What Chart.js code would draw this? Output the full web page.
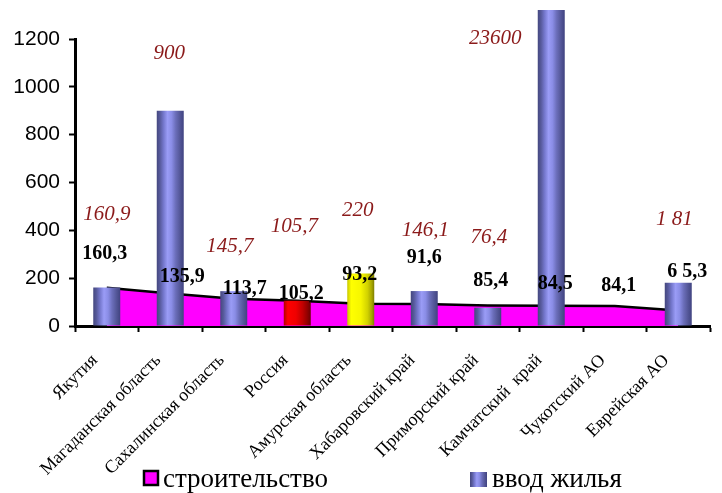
<!DOCTYPE html>
<html><head><meta charset="utf-8">
<script src="https://cdn.jsdelivr.net/npm/chart.js@4.4.0/dist/chart.umd.min.js"></script>
<style>html,body{margin:0;padding:0;background:#fff}#wrap{position:relative;width:722px;height:493px}</style>
</head><body><div id="wrap"><canvas id="c" width="722" height="493"></canvas></div>
<script>
// ---- data ----
const categories = ['Якутия','Магаданская область','Сахалинская область','Россия','Амурская область','Хабаровский край','Приморский край','Камчатский  край','Чукотский АО','Еврейская АО'];
const constructionValues = [160.3,135.9,113.7,105.2,93.2,91.6,85.4,84.5,84.1,65.3];
const housingValues = [160.9,900,145.7,105.7,220,146.1,76.4,23600,null,181];
const constructionLabels = ['160,3','135,9','113,7','105,2','93,2','91,6','85,4','84,5','84,1','6 5,3'];
const housingLabels = ['160,9','900','145,7','105,7','220','146,1','76,4','23600','','1 81'];
const yTicks = [0,200,400,600,800,1000,1200];
const seriesNames = ['строительство','ввод жилья'];

// ---- layout / style (not data) ----
const constructionLabelShift = [[-2,-34],[12,-17],[11,-10],[4,-7],[-1,-29],[0,-46],[3,-25],[4,-22],[4,-20],[9,-39]];
const housingLabelShift = [[0,-73],[-1,-57],[-4,-45],[-3,-74],[-3,-63],[1,-61],[1,-70],[-56,28],[0,0],[-4,-63]];
const TOP_OVERFLOW = 29;   // bars may rise this many px above the top tick (as in the original)
const BAR_PCT = 0.425;
const blueStops = [[0,'#44477f'],[0.12,'#575a9c'],[0.25,'#7477cc'],[0.4,'#9a9cf6'],[0.55,'#8a8de6'],[0.7,'#6b6eba'],[0.85,'#55589a'],[1,'#404380']];
const redStops = [[0,'#b00000'],[0.15,'#ff0000'],[0.45,'#f00000'],[0.7,'#c00000'],[0.88,'#900000'],[1,'#6a0000']];
const yellowStops = [[0,'#c8c800'],[0.15,'#ffff00'],[0.5,'#f6f600'],[0.75,'#d2d200'],[0.9,'#a8a800'],[1,'#7e7e00']];
const highlight = {'Россия': redStops, 'Амурская область': yellowStops};

function makeGrad(ctx, x0, x1, stops){
  const g = ctx.createLinearGradient(x0,0,x1,0);
  stops.forEach(s=>g.addColorStop(s[0],s[1]));
  return g;
}

const labelPlugin = {
  id:'valueLabels',
  afterDatasetsDraw(chart){
    const ctx = chart.ctx, ca = chart.chartArea;
    const xs = chart.scales.x, ys = chart.scales.y;
    ctx.save();
    ctx.textAlign='center'; ctx.textBaseline='middle';
    ctx.font = 'bold 20px "Liberation Serif", "Times New Roman", serif';
    ctx.fillStyle = '#000';
    constructionValues.forEach((v,i)=>{
      const x = xs.getPixelForValue(i) + constructionLabelShift[i][0];
      const y = ys.getPixelForValue(v) + constructionLabelShift[i][1];
      ctx.fillText(constructionLabels[i], x, y);
    });
    ctx.font = 'italic 21px "Liberation Serif", "Times New Roman", serif';
    ctx.fillStyle = '#8b1a1a';
    housingValues.forEach((v,i)=>{
      if (v === null) return;
      const x = xs.getPixelForValue(i) + housingLabelShift[i][0];
      const y = Math.max(ys.getPixelForValue(v), ca.top - TOP_OVERFLOW) + housingLabelShift[i][1];
      ctx.fillText(housingLabels[i], x, y);
    });
    ctx.restore();
  },
  afterDraw(chart){
    const ctx = chart.ctx;
    ctx.save();
    ctx.fillStyle='#ff00ff'; ctx.fillRect(144,471,14,14);
    ctx.strokeStyle='#000'; ctx.lineWidth=2.5; ctx.strokeRect(144,471,14,14);
    ctx.fillStyle='#000'; ctx.font='27px "Liberation Serif", "Times New Roman", serif';
    ctx.textAlign='left'; ctx.textBaseline='alphabetic';
    ctx.fillText(seriesNames[0], 163, 487);
    ctx.fillStyle = makeGrad(ctx, 470, 487, blueStops);
    ctx.fillRect(470,472,17,15);
    ctx.fillStyle='#000';
    ctx.fillText(seriesNames[1], 492, 487);
    ctx.restore();
  }
};

new Chart(document.getElementById('c'), {
  data: {
    labels: categories,
    datasets: [
      {
        type:'bar', label: seriesNames[1], data: housingValues, order:1,
        categoryPercentage:1, barPercentage:BAR_PCT,
        borderWidth:0,
        clip:{ left:0, right:0, bottom:0, top:TOP_OVERFLOW },
        backgroundColor: (c)=>{
          const chart = c.chart, xs = chart.scales && chart.scales.x;
          if (c.type !== 'data' || !xs || !chart.chartArea) return '#8a8de6';
          const cx = xs.getPixelForValue(c.dataIndex);
          const w = (xs.width / categories.length) * BAR_PCT;
          const stops = highlight[categories[c.dataIndex]] || blueStops;
          return makeGrad(chart.ctx, cx - w/2, cx + w/2, stops);
        }
      },
      {
        type:'line', label: seriesNames[0], data: constructionValues, order:2,
        fill:'origin', backgroundColor:'#ff00ff', borderColor:'#000', borderWidth:2.5,
        pointRadius:0, tension:0
      }
    ]
  },
  options: {
    responsive:false, animation:false, devicePixelRatio:1,
    layout:{ padding:{ top:39, right:12, left:0, bottom:0 } },
    plugins:{ legend:{display:false}, tooltip:{enabled:false} },
    scales:{
      x:{
        type:'category', offset:true,
        grid:{ display:true, drawOnChartArea:false, drawTicks:true, tickLength:6, tickWidth:2, tickColor:'#000', offset:true },
        border:{ display:true, color:'#000', width:3 },
        ticks:{ autoSkip:false, maxRotation:45, minRotation:45, padding:18, labelOffset:-12,
          color:'#000', font:{ family:'"Liberation Serif", "Times New Roman", serif', size:18 } },
        afterFit:(s)=>{ s.height = 167; s.paddingLeft = 0; s.paddingRight = 0; }
      },
      y:{
        min:0, max:1200,
        afterBuildTicks:(s)=>{ s.ticks = yTicks.map(v=>({value:v})); },
        grid:{ display:true, drawOnChartArea:false, drawTicks:true, tickLength:6, tickWidth:2, tickColor:'#000' },
        border:{ display:true, color:'#000', width:3 },
        ticks:{ padding:9, color:'#000', callback:(v)=>String(v),
          font:{ family:'"Liberation Sans", Arial, sans-serif', size:21 } },
        afterFit:(s)=>{ s.width = 75; s.paddingTop = 0; s.paddingBottom = 0; }
      }
    }
  },
  plugins:[labelPlugin]
});
</script></body></html>
